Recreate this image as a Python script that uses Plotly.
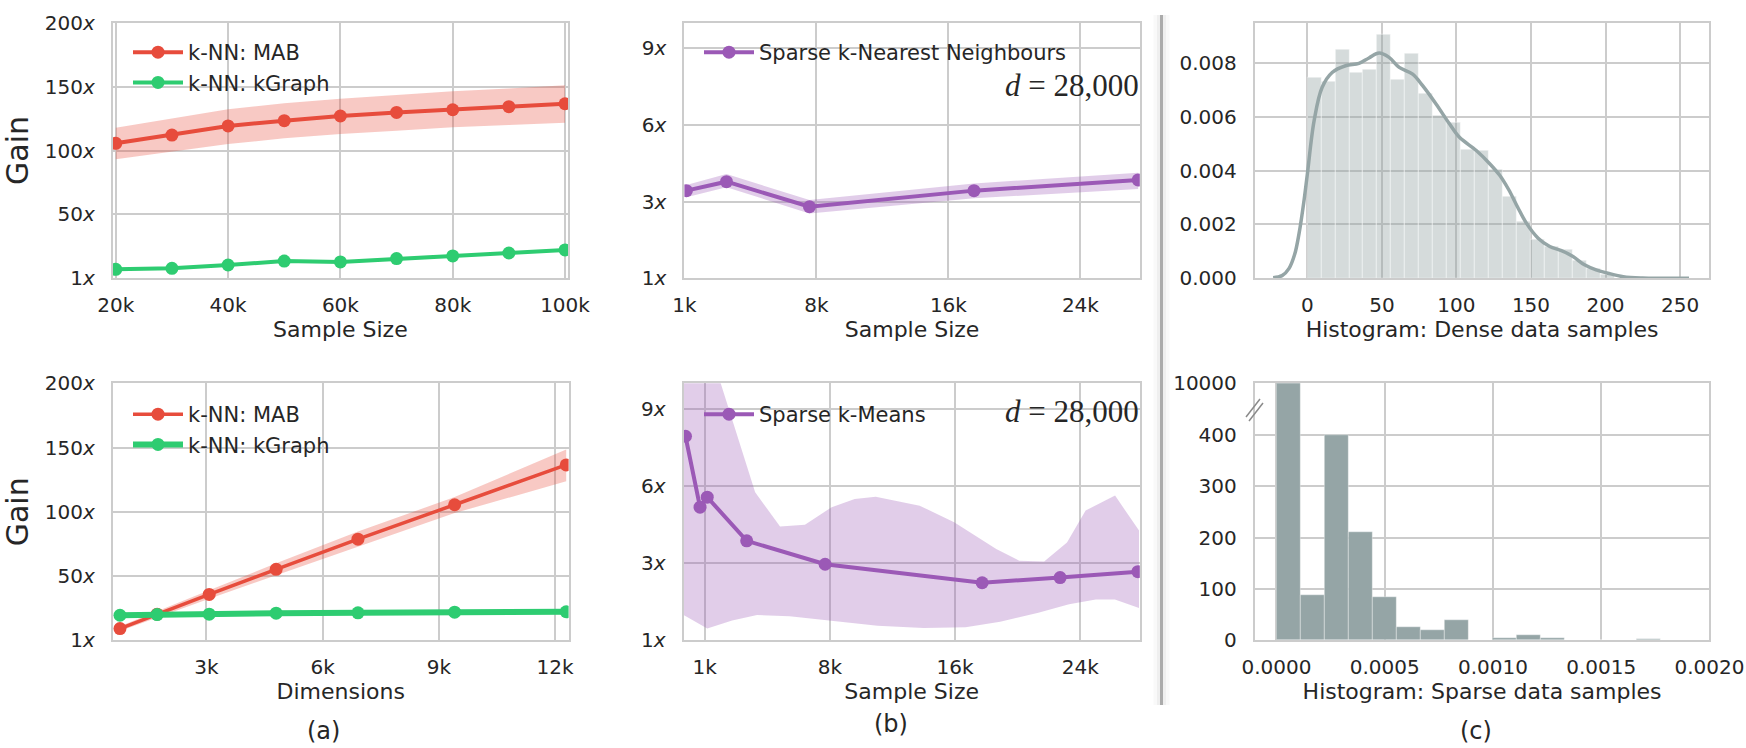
import plotly.graph_objects as go

W, H = 1746, 748
RED, GREEN, PURPLE, GREY = "#e74c3c", "#2ecc71", "#9b59b6", "#95a5a6"
TXT, GRIDC = "#262626", "#cccccc"
FONT = "DejaVu Sans"

# ---------------- data ----------------
# (a) top: gain vs sample size (thousands)
a1_sample_k = [20, 30, 40, 50, 60, 70, 80, 90, 100]
a1_mab = [105.6, 112.1, 119.2, 123.3, 127.0, 129.8, 131.9, 134.3, 136.6]
a1_mab_hi = [117.8, 125.2, 132.2, 136.9, 140.5, 143.4, 146.3, 148.6, 151.0]
a1_mab_lo = [93.1, 99.1, 105.1, 109.5, 112.9, 115.5, 118.1, 119.9, 121.8]
a1_kgraph = [7.0, 7.8, 10.4, 13.5, 12.8, 15.4, 17.5, 19.8, 22.2]

# (a) bottom: gain vs dimensions (thousands)
a2_dims_k = [0.768, 1.728, 3.072, 4.8, 6.912, 9.408, 12.288]
a2_mab = [9.1, 20.3, 35.7, 55.2, 78.7, 105.5, 136.5]
a2_mab_hi = [11.0, 22.8, 39.0, 59.9, 84.6, 111.5, 148.4]
a2_mab_lo = [7.2, 17.8, 32.4, 50.6, 72.9, 99.0, 123.7]
a2_kgraph = [19.5, 20.0, 20.3, 21.1, 21.4, 21.9, 22.2]

# (b) top: sparse k-NN
b1_sample_k = [0.12, 2.55, 7.58, 17.55, 27.5]
b1_gain = [3.43, 3.78, 2.80, 3.43, 3.85]
b1_hi = [3.65, 4.08, 3.06, 3.71, 4.13]
b1_lo = [3.17, 3.56, 2.54, 3.13, 3.49]

# (b) bottom: sparse k-means
b2_sample_k = [-1.22, -0.29, 0.17, 2.69, 7.70, 17.73, 22.71, 27.68]
b2_gain = [7.94, 5.18, 5.57, 3.87, 2.96, 2.24, 2.44, 2.67]
b2_hi_x = [-1.34, 0.17, 1.03, 3.23, 4.82, 6.41, 8.12, 9.59, 10.93, 13.74, 15.94,
           18.63, 20.10, 21.69, 23.15, 24.34, 26.22, 27.75]
b2_hi = [13.0, 11.5, 10.0, 5.76, 4.43, 4.50, 5.18, 5.50, 5.59, 5.24, 4.59,
         3.55, 3.10, 3.07, 3.81, 5.05, 5.63, 4.27]
b2_lo_x = [-1.34, 0.17, 1.76, 3.35, 5.43, 7.87, 11.05, 13.99, 16.67, 18.88,
           21.32, 23.28, 24.99, 26.21, 27.75]
b2_lo = [0.98, 0.46, 0.77, 0.98, 0.94, 0.77, 0.57, 0.48, 0.51, 0.72,
         1.07, 1.40, 1.59, 1.59, 1.26]

# (c) top: dense histogram (density) + KDE
dense_bin_start = 0.0
dense_bin_width = 9.37
dense_density = [0.00744, 0.00731, 0.00848, 0.00764, 0.00775, 0.00904, 0.00738,
                 0.00835, 0.00685, 0.00603, 0.00577, 0.00478, 0.00475, 0.00403,
                 0.00303, 0.00210, 0.00144, 0.00117, 0.00105, 0.00067, 0.00037,
                 0.00015]
kde_x = [-23, -17, -12.3, -8.5, -5.6, -2.5, 0, 4.5, 9.9, 16.6, 25.6, 34.6, 41.3,
         48.1, 54.8, 61.6, 70.6, 77.3, 86.3, 95.3, 102, 113.3, 122.3, 129, 135,
         141, 147, 154.8, 162.6, 170.4, 178.2, 185.9, 193.7, 201.5, 211.9, 224.8,
         240, 256]
kde_y = [0.00002, 0.00010, 0.00037, 0.00090, 0.00167, 0.00280, 0.00389, 0.00586,
         0.00710, 0.00765, 0.00790, 0.00799, 0.00819, 0.00837, 0.00821, 0.00784,
         0.00759, 0.00716, 0.00648, 0.00574, 0.00524, 0.00475, 0.00426, 0.00383,
         0.00330, 0.00265, 0.00204, 0.00149, 0.00118, 0.00103, 0.00081, 0.00050,
         0.00031, 0.00019, 0.00006, 0.00001, 0.000003, 0.0]

# (c) bottom: sparse histogram (counts)
sparse_bin_start = 0.0
sparse_bin_width = 0.000111
sparse_counts = [10000, 88, 398, 210, 84, 25, 20, 38, 0, 4, 10.5, 4, 0, 0, 0, 1, 0, 0]

gain_ticks_a = [0, 50, 100, 150, 200]
gain_labels_a = ["1", "50", "100", "150", "200"]
gain_ticks_b = [0, 3, 6, 9]
gain_labels_b = ["1", "3", "6", "9"]
sparse_ticks = [0, 100, 200, 300, 400, 500]
sparse_labels = ["0", "100", "200", "300", "400", "10000"]

# ---------------- helpers ----------------
def dx(p0, p1):
    return [p0 / W, p1 / W]

def dy(top, bottom):
    return [1 - bottom / H, 1 - top / H]

fig = go.Figure()

def rgba(hexc, a):
    h = hexc.lstrip("#")
    return "rgba(%d,%d,%d,%s)" % (int(h[0:2], 16), int(h[2:4], 16), int(h[4:6], 16), a)

def band(x, lo, hi, color, xa, ya):
    fig.add_trace(go.Scatter(x=x, y=lo, mode="lines", line=dict(width=0),
                             showlegend=False, hoverinfo="skip", xaxis=xa, yaxis=ya))
    fig.add_trace(go.Scatter(x=x, y=hi, mode="lines", line=dict(width=0),
                             fill="tonexty", fillcolor=rgba(color, 0.3),
                             showlegend=False, hoverinfo="skip", xaxis=xa, yaxis=ya))

def line(x, y, color, name, xa, ya, legend, width=4):
    fig.add_trace(go.Scatter(x=x, y=y, mode="lines+markers", name=name,
                             line=dict(color=color, width=width),
                             marker=dict(color=color, size=13),
                             xaxis=xa, yaxis=ya, legend=legend))

# (a) top
band(a1_sample_k, a1_mab_lo, a1_mab_hi, RED, "x", "y")
line(a1_sample_k, a1_mab, RED, "k-NN: MAB", "x", "y", "legend")
line(a1_sample_k, a1_kgraph, GREEN, "k-NN: kGraph", "x", "y", "legend")

# (b) top
band(b1_sample_k, b1_lo, b1_hi, PURPLE, "x2", "y2")
line(b1_sample_k, b1_gain, PURPLE, "Sparse k-Nearest Neighbours", "x2", "y2", "legend2")

# (c) top
centers_d = [dense_bin_start + dense_bin_width * (i + 0.5) for i in range(len(dense_density))]
fig.add_trace(go.Bar(x=centers_d, y=dense_density, width=dense_bin_width,
                     marker=dict(color=rgba(GREY, 0.4), line=dict(color="rgba(255,255,255,0.45)", width=1)),
                     showlegend=False, xaxis="x3", yaxis="y3"))
fig.add_trace(go.Scatter(x=kde_x, y=kde_y, mode="lines", line=dict(color=GREY, width=3.5, shape="spline"),
                         showlegend=False, xaxis="x3", yaxis="y3"))

# (a) bottom
band(a2_dims_k, a2_mab_lo, a2_mab_hi, RED, "x4", "y4")
line(a2_dims_k, a2_mab, RED, "k-NN: MAB", "x4", "y4", "legend4", width=3.5)
line(a2_dims_k, a2_kgraph, GREEN, "k-NN: kGraph", "x4", "y4", "legend4", width=6)

# (b) bottom
poly_x = b2_hi_x + b2_lo_x[::-1]
poly_y = b2_hi + b2_lo[::-1]
fig.add_trace(go.Scatter(x=poly_x, y=poly_y, mode="lines", line=dict(width=0),
                         fill="toself", fillcolor=rgba(PURPLE, 0.3),
                         showlegend=False, hoverinfo="skip", xaxis="x5", yaxis="y5"))
line(b2_sample_k, b2_gain, PURPLE, "Sparse k-Means", "x5", "y5", "legend5")

# (c) bottom
centers_s = [sparse_bin_start + sparse_bin_width * (i + 0.5) for i in range(len(sparse_counts))]
fig.add_trace(go.Bar(x=centers_s, y=sparse_counts, width=sparse_bin_width,
                     marker=dict(color=GREY, line=dict(color="rgba(255,255,255,0.35)", width=1)),
                     showlegend=False, xaxis="x6", yaxis="y6"))

# ---------------- axes ----------------
def ax(**kw):
    base = dict(showline=True, mirror=True, linecolor=GRIDC, linewidth=2,
                showgrid=True, gridcolor=GRIDC, gridwidth=1.5, zeroline=False,
                ticks="", tickfont=dict(family=FONT, size=20, color=TXT),
                tickmode="array", automargin=False)
    base.update(kw)
    return base

xt = dict(font=dict(family=FONT, size=22, color=TXT), standoff=4)
yt = dict(text="Gain", font=dict(family=FONT, size=30, color=TXT), standoff=14)
gl = lambda labs: [l + "<i>x</i>" for l in labs]

TOP = dy(22.7, 278.3)
BOT = dy(383.3, 640.3)
fig.update_layout(
    xaxis=ax(domain=dx(112.8, 568), anchor="y", range=[19.47, 100.53],
             tickvals=[20, 40, 60, 80, 100], ticktext=["20k", "40k", "60k", "80k", "100k"],
             ticklabelstandoff=8, title=dict(text="Sample Size", **xt)),
    yaxis=ax(domain=TOP, anchor="x", range=[0, 200], tickvals=gain_ticks_a,
             ticktext=gl(gain_labels_a), ticklabelstandoff=12, title=yt),
    xaxis2=ax(domain=dx(684.4, 1139.8), anchor="y2", range=[0, 27.6],
              tickvals=[0, 8, 16, 24], ticktext=["1k", "8k", "16k", "24k"],
              ticklabelstandoff=8, title=dict(text="Sample Size", **xt)),
    yaxis2=ax(domain=TOP, anchor="x2", range=[0, 10], tickvals=gain_ticks_b,
              ticktext=gl(gain_labels_b), ticklabelstandoff=12),
    xaxis3=ax(domain=dx(1254.8, 1709.4), anchor="y3", range=[-35.3, 269.7],
              tickvals=[0, 50, 100, 150, 200, 250], ticktext=["0", "50", "100", "150", "200", "250"],
              ticklabelstandoff=8, title=dict(text="Histogram: Dense data samples", **xt)),
    yaxis3=ax(domain=TOP, anchor="x3", range=[0, 0.0095],
              tickvals=[0, 0.002, 0.004, 0.006, 0.008],
              ticktext=["0.000", "0.002", "0.004", "0.006", "0.008"], ticklabelstandoff=12),
    xaxis4=ax(domain=dx(112.8, 568.6), anchor="y4", range=[0.583, 12.35],
              tickvals=[3, 6, 9, 12], ticktext=["3k", "6k", "9k", "12k"],
              ticklabelstandoff=8, title=dict(text="Dimensions", **xt)),
    yaxis4=ax(domain=BOT, anchor="x4", range=[0, 200], tickvals=gain_ticks_a,
              ticktext=gl(gain_labels_a), ticklabelstandoff=12, title=yt),
    xaxis5=ax(domain=dx(683.6, 1139.8), anchor="y5", range=[-1.34, 27.8],
              tickvals=[0, 8, 16, 24], ticktext=["1k", "8k", "16k", "24k"],
              ticklabelstandoff=8, title=dict(text="Sample Size", **xt)),
    yaxis5=ax(domain=BOT, anchor="x5", range=[0, 10], tickvals=gain_ticks_b,
              ticktext=gl(gain_labels_b), ticklabelstandoff=12),
    xaxis6=ax(domain=dx(1254.8, 1709.4), anchor="y6", range=[-0.0001, 0.002],
              tickvals=[0, 0.0005, 0.001, 0.0015, 0.002],
              ticktext=["0.0000", "0.0005", "0.0010", "0.0015", "0.0020"],
              ticklabelstandoff=8, title=dict(text="Histogram: Sparse data samples", **xt)),
    yaxis6=ax(domain=BOT, anchor="x6", range=[0, 500], tickvals=sparse_ticks,
              ticktext=sparse_labels, ticklabelstandoff=12),
)

lg = dict(font=dict(family=FONT, size=21, color=TXT), bgcolor="rgba(0,0,0,0)",
          xanchor="left", yanchor="top", itemwidth=50, traceorder="normal")
fig.update_layout(
    legend=dict(x=128 / W, y=1 - 32 / H, **lg),
    legend2=dict(x=699 / W, y=1 - 32 / H, **lg),
    legend4=dict(x=128 / W, y=1 - 394 / H, **lg),
    legend5=dict(x=699 / W, y=1 - 394 / H, **lg),
)

# ---------------- annotations & decorations ----------------
ann = []
for yc in (85, 411.7):
    ann.append(dict(x=1141 / W, y=1 - yc / H, xref="paper", yref="paper", xanchor="right",
                    yanchor="middle", showarrow=False, text="<i>d</i> = 28,000",
                    font=dict(family="Liberation Serif", size=31, color=TXT)))
for txt, xc, yc in (("(a)", 323, 731), ("(b)", 891, 724), ("(c)", 1475.5, 731)):
    ann.append(dict(x=xc / W, y=1 - yc / H, xref="paper", yref="paper", xanchor="center",
                    yanchor="middle", showarrow=False, text=txt,
                    font=dict(family=FONT, size=24, color=TXT)))

shapes = []
# separator with soft shadow
for w, c in ((16, "rgba(0,0,0,0.025)"), (9, "rgba(0,0,0,0.04)"), (3, "#ababab")):
    shapes.append(dict(type="line", xref="paper", yref="paper",
                       x0=1161.5 / W, x1=1161.5 / W, y0=1 - 15 / H, y1=1 - 705 / H,
                       line=dict(color=c, width=w)))
# axis break marks
for (x0, y0, x1, y1) in ((1246, 417, 1260, 399), (1249, 421, 1263, 403)):
    shapes.append(dict(type="line", xref="paper", yref="paper",
                       x0=x0 / W, x1=x1 / W, y0=1 - y0 / H, y1=1 - y1 / H,
                       line=dict(color="#8a8a8a", width=1.5)))

fig.update_layout(width=W, height=H, margin=dict(l=0, r=0, t=0, b=0, autoexpand=False),
                  paper_bgcolor="white", plot_bgcolor="white",
                  annotations=ann, shapes=shapes, bargap=0,
                  font=dict(family=FONT, color=TXT))

fig.write_html("out.html", config={"displayModeBar": False},
               post_script="document.body.style.margin='0px';document.body.style.overflow='hidden';")
